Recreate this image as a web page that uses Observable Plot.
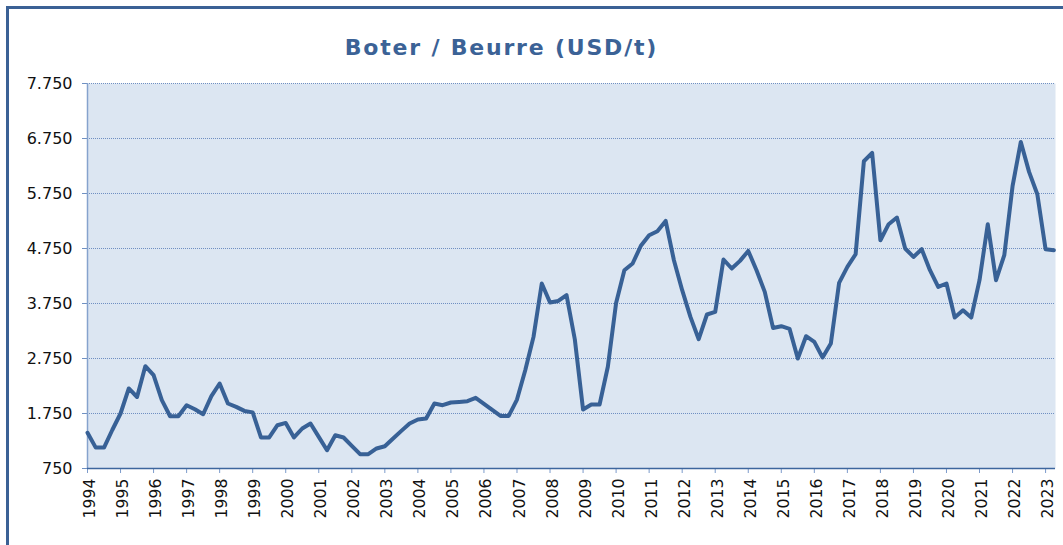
<!DOCTYPE html>
<html>
<head>
<meta charset="utf-8">
<script src="https://cdn.jsdelivr.net/npm/d3@7"></script>
<script src="https://cdn.jsdelivr.net/npm/@observablehq/plot@0.6"></script>
<style>
  html, body { margin: 0; padding: 0; background: #fff; overflow: hidden; width: 1063px; height: 545px; }
  #frame { position: absolute; left: 6px; top: 6px; width: 1200px; height: 800px; border: 3px solid #3b6195; box-sizing: border-box; }
  #title { position: absolute; left: 0; top: 37px; width: 1003px; text-align: center; font-family: "DejaVu Sans", Verdana, sans-serif; font-weight: bold; font-size: 22px; line-height: 22px; letter-spacing: 1.8px; color: #3b6296; }
  #chart { position: absolute; left: 0; top: 0; }
</style>
</head>
<body>
<div id="frame"></div>
<div id="chart"></div>
<div id="title">Boter / Beurre (USD/t)</div>
<script>
// X-axis tick labels (years)
const years = [1994, 1995, 1996, 1997, 1998, 1999, 2000, 2001, 2002, 2003, 2004, 2005, 2006, 2007, 2008,
  2009, 2010, 2011, 2012, 2013, 2014, 2015, 2016, 2017, 2018, 2019, 2020, 2021, 2022, 2023];

// Y-axis ticks
const yTicks = [750, 1750, 2750, 3750, 4750, 5750, 6750, 7750];

// Quarterly butter price (USD/t), 1994 Q1 .. 2023 Q2
const startYear = 1994;
const butterPrice = [
  1400, 1130, 1130, 1450,   // 1994
  1750, 2205, 2050, 2610,   // 1995
  2446, 1992, 1700, 1700,   // 1996
  1900, 1828, 1737, 2065,   // 1997
  2295, 1932, 1870, 1797,   // 1998
  1770, 1314, 1314, 1537,   // 1999
  1579, 1314, 1477, 1568,   // 2000
  1325, 1083, 1355, 1314,   // 2001
  1161, 1010, 1010, 1114,   // 2002
  1155, 1295, 1434, 1568,   // 2003
  1641, 1659, 1932, 1901,   // 2004
  1950, 1961, 1974, 2034,   // 2005
  1925, 1815, 1706, 1706,   // 2006
  2004, 2537, 3143, 4114,   // 2007
  3768, 3797, 3901, 3100,   // 2008
  1823, 1914, 1914, 2600,   // 2009
  3760, 4355, 4477, 4800,   // 2010
  4992, 5065, 5252, 4537,   // 2011
  3992, 3506, 3101, 3550,   // 2012
  3597, 4550, 4386, 4525,   // 2013
  4706, 4355, 3961, 3306,   // 2014
  3337, 3288, 2750, 3155,   // 2015
  3052, 2768, 3023, 4125,   // 2016
  4415, 4646, 6337, 6488,   // 2017
  4900, 5192, 5313, 4750,   // 2018
  4597, 4737, 4355, 4052,   // 2019
  4114, 3495, 3628, 3495,   // 2020
  4174, 5192, 4174, 4628,   // 2021
  5883, 6688, 6143, 5737,   // 2022
  4737, 4719                // 2023
];

const data = butterPrice.map((v, i) => ({ t: startYear + i / 4, v }));
const fmt = d3.formatLocale({ decimal: ",", thousands: ".", grouping: [3], currency: ["", ""] }).format(",");

const chart = Plot.plot({
  width: 1063,
  height: 545,
  marginLeft: 87,
  marginRight: 8,
  marginTop: 83,
  marginBottom: 77,
  style: { fontFamily: "DejaVu Sans, Verdana, sans-serif", background: "transparent", color: "#111" },
  x: { domain: [1994, 2023.3] },
  y: { domain: [750, 7750] },
  marks: [
    Plot.frame({ fill: "#dce6f2" }),
    Plot.ruleY(yTicks.slice(1), { stroke: "#6f8fc2", strokeWidth: 1, strokeDasharray: "1,1" }),
    Plot.axisY({ ticks: yTicks, tickFormat: fmt, tickSize: 5, tickPadding: 10, stroke: "#6f90c2", fill: "#111", fontSize: 16, label: null }),
    Plot.axisX({ ticks: years, tickSize: 5, tickFormat: () => "", stroke: "#7c9bcb", label: null }),
    Plot.ruleX([1994], { stroke: "#86a3cd", strokeWidth: 1.5 }),
    Plot.ruleY([750], { stroke: "#3d669e", strokeWidth: 1.5 }),
    Plot.text(years, { x: d => d, y: 750, text: d => String(d), rotate: -90, textAnchor: "end", dy: 10, dx: 2.5, fontSize: 15.7, fill: "#111" }),
    Plot.line(data, { x: "t", y: "v", stroke: "#386196", strokeWidth: 4, strokeLinejoin: "round" })
  ]
});
document.getElementById("chart").appendChild(chart);
</script>
</body>
</html>
